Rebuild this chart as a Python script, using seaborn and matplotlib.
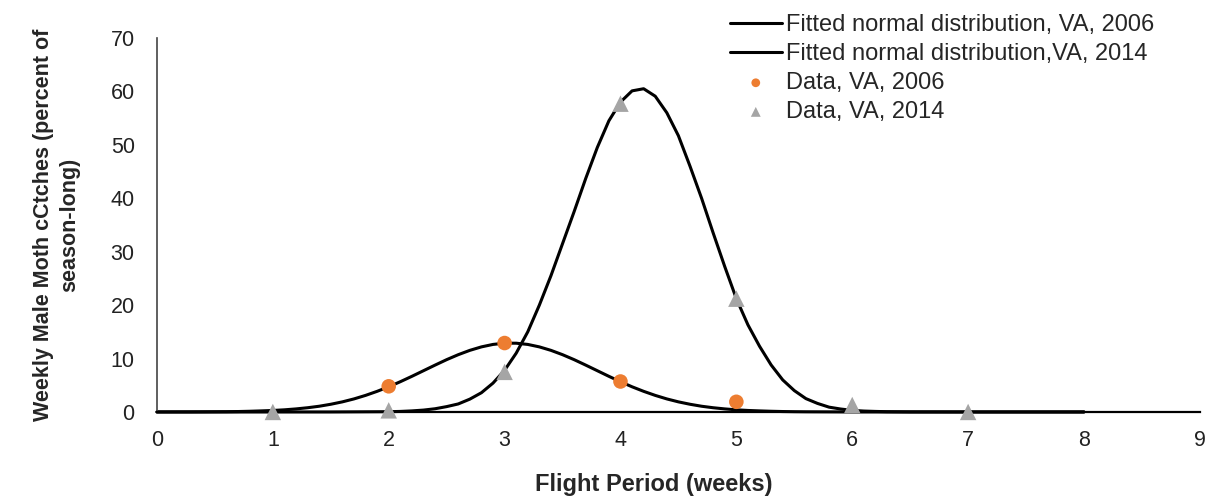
import pandas as pd
import matplotlib
matplotlib.use("Agg")
import matplotlib.pyplot as plt
import seaborn as sns

# observed weekly catches (percent of season-long)
weeks_2006 = [2, 3, 4, 5]
catch_2006 = [4.8, 12.9, 5.7, 1.9]
weeks_2014 = [1, 2, 3, 4, 5, 6, 7]
catch_2014 = [0, 0.3, 7.5, 57.7, 21.2, 1.3, 0]

# fitted curves
fit_x_2006 = [0, 0.3, 0.6, 0.7, 0.8, 0.9, 1.0, 1.1, 1.2, 1.3, 1.4, 1.5, 1.6, 1.7, 1.8, 1.9,
              2.0, 2.1, 2.2, 2.3, 2.4, 2.5, 2.6, 2.7, 2.8, 2.9, 3.0, 3.1, 3.2, 3.3, 3.4,
              3.5, 3.6, 3.7, 3.8, 3.9, 4.0, 4.1, 4.2, 4.3, 4.4, 4.5, 4.6, 4.7, 4.8, 4.9,
              5.0, 5.1, 5.2, 5.3, 5.4, 5.5, 5.6, 6.0, 7.0, 8.0]
fit_y_2006 = [0, 0.01, 0.05, 0.08, 0.13, 0.2, 0.28, 0.4, 0.57, 0.79, 1.07, 1.44, 1.89, 2.44, 3.1, 3.86,
              4.71, 5.66, 6.67, 7.72, 8.77, 9.79, 10.72, 11.53, 12.18, 12.64, 12.87, 12.87, 12.64, 12.18, 11.53,
              10.72, 9.79, 8.77, 7.72, 6.67, 5.66, 4.71, 3.86, 3.1, 2.44, 1.89, 1.44, 1.07, 0.79, 0.57,
              0.4, 0.28, 0.2, 0.13, 0.08, 0.05, 0.03, 0, 0, 0]
fit_x_2014 = [0, 1.0, 1.5, 2.0, 2.1, 2.2, 2.3, 2.4, 2.5, 2.6, 2.7, 2.8, 2.9, 3.0, 3.1, 3.2,
              3.3, 3.4, 3.5, 3.6, 3.7, 3.8, 3.9, 4.0, 4.1, 4.2, 4.3, 4.4, 4.5, 4.6, 4.7,
              4.8, 4.9, 5.0, 5.1, 5.2, 5.3, 5.4, 5.5, 5.6, 5.7, 5.8, 5.9, 6.0, 6.1, 6.2,
              6.3, 6.4, 6.5, 7.0, 8.0]
fit_y_2014 = [0, 0, 0, 0.05, 0.1, 0.2, 0.35, 0.6, 1.0, 1.5, 2.4, 3.6, 5.4, 7.8, 11.0, 15.0,
              20.0, 25.5, 31.5, 37.5, 43.7, 49.5, 54.5, 58.0, 60.1, 60.5, 59.1, 56.0, 51.7, 46.0, 40.0,
              33.5, 27.2, 21.2, 16.3, 12.3, 8.8, 6.0, 4.0, 2.5, 1.6, 0.9, 0.55, 0.3, 0.17, 0.1,
              0.05, 0.03, 0.01, 0, 0]

fit06 = pd.DataFrame({"x": fit_x_2006, "y": fit_y_2006})
fit14 = pd.DataFrame({"x": fit_x_2014, "y": fit_y_2014})
pts06 = pd.DataFrame({"x": weeks_2006, "y": catch_2006})
pts14 = pd.DataFrame({"x": weeks_2014, "y": catch_2014})

sns.set_style("white")
plt.rcParams["font.family"] = ["Liberation Sans", "DejaVu Sans"]

fig = plt.figure(figsize=(12.12, 5.03), dpi=100)
ax = fig.add_axes([0.1295, 0.181, 0.8605, 0.7435])

sns.lineplot(data=fit06, x="x", y="y", color="black", linewidth=2.2, ax=ax,
             label="Fitted normal distribution, VA, 2006", clip_on=False)
sns.lineplot(data=fit14, x="x", y="y", color="black", linewidth=2.2, ax=ax,
             label="Fitted normal distribution,VA, 2014", clip_on=False)
sns.scatterplot(data=pts06, x="x", y="y", color="#ED7D31", marker="o", s=110,
                edgecolor="none", ax=ax, label="Data, VA, 2006", clip_on=False, zorder=3)
sns.scatterplot(data=pts14, x="x", y="y", color="#A5A5A5", marker="^", s=140,
                edgecolor="none", ax=ax, label="Data, VA, 2014", clip_on=False, zorder=4)

ax.set_xlim(0, 9)
ax.set_ylim(0, 70)
ax.set_xticks(range(0, 10))
ax.set_yticks(range(0, 71, 10))
ax.tick_params(axis="both", length=0, labelsize=15.5, colors="#222222")
ax.tick_params(axis="x", pad=13)
ax.tick_params(axis="y", pad=16)

for side in ["top", "right"]:
    ax.spines[side].set_visible(False)
ax.spines["left"].set_color("#444444")
ax.spines["left"].set_linewidth(1.2)
ax.spines["bottom"].set_color("black")
ax.spines["bottom"].set_linewidth(1.6)

ax.set_xlabel("Flight Period (weeks)", fontsize=17, fontweight="bold")
ax.xaxis.set_label_coords(0.4765, -0.163)
ax.set_ylabel("Weekly Male Moth cCtches (percent of\nseason-long)", fontsize=15.5,
              fontweight="bold", labelpad=22, linespacing=1.3)

ax.legend(loc="upper left", bbox_to_anchor=(718 / 1212, 1 - 2 / 503),
          bbox_transform=fig.transFigure, frameon=False, fontsize=17,
          handlelength=2.2, handletextpad=0.2, labelspacing=0.3, borderpad=0,
          markerscale=0.6)

plt.savefig("out.png", dpi=100)
